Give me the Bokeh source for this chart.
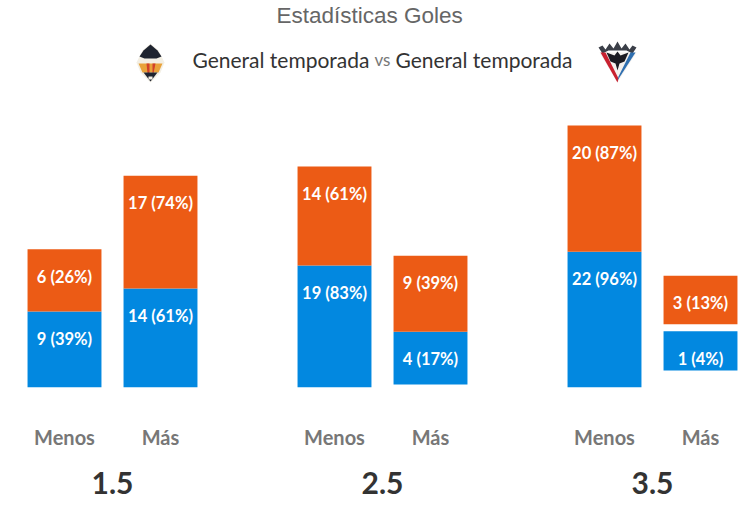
from bokeh.embed import file_html
from bokeh.resources import INLINE
from bokeh.plotting import figure
from bokeh.models import FactorRange, Range1d, Title, Label, CategoricalAxis
from bokeh.core.properties import value

lines = ["1.5", "2.5", "3.5"]
sides = ["Menos", "Más"]
blue_goals = [9, 14, 19, 4, 22, 1]
blue_pct = [39, 61, 83, 17, 96, 4]
orange_goals = [6, 17, 14, 9, 20, 3]
orange_pct = [26, 74, 61, 39, 87, 13]
# the chart gives each segment a minimum height and lifts some stacks
floor_pct = 33.3
blue_lift = [0, 0, 0, 2.9, 0, 16.2]
orange_gap = [0, 0, 0, 0, 0, 6.7]

BLUE = "#0288E0"
ORANGE = "#EC5B15"

factors = [(l, s) for l in lines for s in sides]
x_range = FactorRange(*factors, factor_padding=0.0, group_padding=0.8125, range_padding=0.0)
p = figure(frame_width=732, frame_height=360, x_range=x_range, y_range=Range1d(0, 342.9),
           output_backend="svg", toolbar_location=None,
           min_border_left=16, min_border_right=0, min_border_top=0, min_border_bottom=112)

blue_bottom = list(blue_lift)
blue_top = [b + floor_pct + v for b, v in zip(blue_bottom, blue_pct)]
orange_bottom = [t + g for t, g in zip(blue_top, orange_gap)]
orange_top = [b + floor_pct + v for b, v in zip(orange_bottom, orange_pct)]

p.vbar(x=factors, bottom=blue_bottom, top=blue_top, width=0.77, color=BLUE, line_width=0)
p.vbar(x=factors, bottom=orange_bottom, top=orange_top, width=0.77, color=ORANGE, line_width=0)

blue_labels = [f"{g} ({v}%)" for g, v in zip(blue_goals, blue_pct)]
orange_labels = [f"{g} ({v}%)" for g, v in zip(orange_goals, orange_pct)]
for tops, labels in ((blue_top, blue_labels), (orange_top, orange_labels)):
    p.text(x=factors, y=tops, text=labels, y_offset=27.5, text_align="center", text_baseline="middle",
           text_color="white", text_font=value("Lato"), text_font_style="bold", text_font_size="16.5px")

p.grid.visible = False
p.yaxis.visible = False
p.outline_line_color = None
ax = p.xaxis[0]
ax.axis_line_color = None
ax.major_tick_line_color = None
ax.minor_tick_line_color = None
ax.separator_line_color = None
ax.major_label_standoff = 31
ax.major_label_text_font = "Lato"
ax.major_label_text_font_style = "bold"
ax.major_label_text_font_size = "20px"
ax.major_label_text_color = "#777777"
ax.group_text_font_size = "1px"
ax.group_text_color = None

# the over/under lines get an axis of their own, below the Menos/Más axis
p.extra_x_ranges["lines"] = FactorRange(*lines, factor_padding=0.40625, range_padding=0.0)
line_axis = CategoricalAxis(x_range_name="lines", major_label_standoff=14,
                            axis_line_color=None, major_tick_line_color=None, minor_tick_line_color=None,
                            major_label_text_font="Lato", major_label_text_font_style="bold",
                            major_label_text_font_size="30px", major_label_text_color="#333333")
p.add_layout(line_axis, "below")

p.add_layout(Title(text="Estadísticas Goles", text_font="Liberation Sans", text_font_size="22.5px",
                   text_font_style="normal", text_color="#666666", align="left", offset=260,
                   standoff=0), "above")

# header row and crests are placed on a page-pixel scale
p.extra_y_ranges["page"] = Range1d(387, 27)


def page_x(px):
    return (px - 16) / 96  # synthetic factor coordinate of a page x


header = [("General temporada", 192, 21, "#333333"), ("vs", 374, 17, "#777777"), ("General temporada", 395, 21, "#333333")]
for txt, xp, fs, col in header:
    p.add_layout(Label(x=page_x(xp), y=59, y_range_name="page", text=txt, text_font="Lato",
                       text_font_size=f"{fs}px", text_color=col, text_baseline="middle"))

crest_left = [
    ("#F3EFE4", [136, 142, 150, 158, 164, 160, 150, 140], [62, 50, 43, 50, 62, 72, 82, 72]),
    ("#1F2430", [139, 143, 150, 157, 161, 156, 144], [56, 50, 44, 50, 56, 58, 58]),
    ("#E9A23A", [138, 162, 158, 142], [63, 63, 72, 72]),
    ("#D2402A", [146, 149, 149, 147], [63, 63, 73, 73]),
    ("#D2402A", [152, 155, 153, 152], [63, 63, 73, 73]),
    ("#1F2430", [143, 157, 150], [72, 72, 81]),
    ("#F3EFE4", [148, 152, 152, 148], [76, 76, 79, 79]),
]
crest_right = [
    ("#F4F1EE", [599, 636, 617], [52, 52, 82]),
    ("#3B3F48", [598, 602, 605, 609, 613, 617, 621, 625, 629, 632, 636, 632, 626, 608, 602],
     [47, 45, 49, 43, 48, 41, 48, 43, 49, 45, 47, 53, 50, 50, 53]),
    ("#C8202F", [600, 605, 618, 617], [52, 52, 78, 82]),
    ("#2F6FB0", [635, 630, 618, 617], [52, 52, 76, 80]),
    ("#1B1B22", [606, 614, 617, 620, 628, 624, 619, 617, 615, 610], [52, 55, 51, 55, 52, 61, 63, 70, 63, 61]),
]
for col, xs, ys in crest_left + crest_right:
    p.patch([page_x(v) for v in xs], ys, color=col, line_width=0, y_range_name="page")

open("out.html", "w").write(file_html(p, INLINE))
